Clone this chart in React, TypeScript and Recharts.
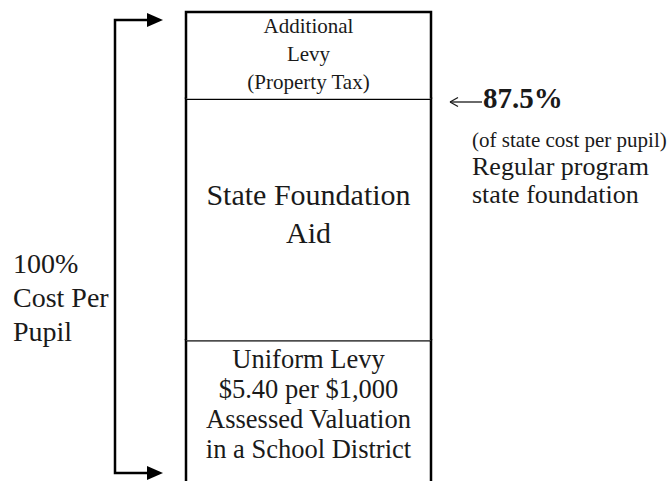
import { BarChart, Bar, XAxis, YAxis, LabelList } from 'recharts';

// share of the drawn column (percent of visible height)
const segments = ['uniform', 'state', 'additional'];
const segmentValues = [30, 51.5, 18.5];

const uniformLines = ['Uniform Levy', '$5.40 per $1,000', 'Assessed Valuation', 'in a School District'];
const stateLines = ['State Foundation', 'Aid'];
const additionalLines = ['Additional', 'Levy', '(Property Tax)'];

const leftLines = ['100%', 'Cost Per', 'Pupil'];
const rightPct = '87.5%';
const rightNote = '(of state cost per pupil)';
const rightLines = ['Regular program', 'state foundation'];

const chartData = [
  segments.reduce(
    (acc, key, i) => {
      acc[key] = segmentValues[i];
      return acc;
    },
    { name: 'cost' } as Record<string, string | number>
  ),
];

const FONT = '"Liberation Serif", "Times New Roman", serif';
const INK = '#1a1a1a';

function OpenBox(props: any) {
  const { x, y, width, height } = props;
  return (
    <g>
      <rect x={x} y={y} width={width} height={height} fill="#fff" />
      <path
        d={`M${x},${y + height} L${x},${y} L${x + width},${y} L${x + width},${y + height}`}
        stroke="#000"
        strokeWidth={2.5}
        fill="none"
      />
    </g>
  );
}

function makeLabel(lines: string[], fontSize: number, first: number, gap: number) {
  return (props: any) => {
    const { x, y, width } = props;
    const cx = Number(x) + Number(width) / 2;
    return (
      <text x={cx} y={Number(y) + first} textAnchor="middle" fontFamily={FONT} fontSize={fontSize} fill={INK}>
        {lines.map((line, i) => (
          <tspan key={line} x={cx} y={Number(y) + first + i * gap}>
            {line}
          </tspan>
        ))}
      </text>
    );
  };
}

export default function App() {
  return (
    <div style={{ position: 'absolute', left: 0, top: 0, width: 668, height: 481, background: '#fff' }}>
      <BarChart
        width={668}
        height={481}
        data={chartData}
        margin={{ top: 12, right: 237, bottom: 0, left: 186 }}
        barCategoryGap={0}
      >
        <XAxis dataKey="name" hide />
        <YAxis hide domain={[0, 100]} />
        <Bar dataKey="uniform" stackId="a" shape={OpenBox} isAnimationActive={false}>
          <LabelList dataKey="uniform" content={makeLabel(uniformLines, 26.5, 28, 30)} />
        </Bar>
        <Bar dataKey="state" stackId="a" shape={OpenBox} isAnimationActive={false}>
          <LabelList dataKey="state" content={makeLabel(stateLines, 30, 106, 38)} />
        </Bar>
        <Bar dataKey="additional" stackId="a" shape={OpenBox} isAnimationActive={false}>
          <LabelList dataKey="additional" content={makeLabel(additionalLines, 21, 21, 28)} />
        </Bar>

        {/* bracket on the left */}
        <g>
          <path d="M148,20 L115,20 L115,473 L148,473" stroke="#000" strokeWidth={2.5} fill="none" />
          <path d="M147,13 L163,20 L147,27 Z" fill="#000" />
          <path d="M147,466 L163,473 L147,480 Z" fill="#000" />
        </g>
        <text fontFamily={FONT} fontSize={28} fill={INK}>
          {leftLines.map((line, i) => (
            <tspan key={line} x={13} y={273 + i * 34}>
              {line}
            </tspan>
          ))}
        </text>

        {/* note on the right */}
        <g>
          <line x1={450} y1={102} x2={482} y2={102} stroke={INK} strokeWidth={1.3} />
          <path d="M450,102 L458,97.5 M450,102 L458,106.5" stroke={INK} strokeWidth={1.3} fill="none" />
        </g>
        <text x={483} y={108} fontFamily={FONT} fontSize={29} fontWeight="bold" fill={INK}>
          {rightPct}
        </text>
        <text x={472} y={147} fontFamily={FONT} fontSize={21} fill={INK}>
          {rightNote}
        </text>
        <text fontFamily={FONT} fontSize={26} fill={INK}>
          {rightLines.map((line, i) => (
            <tspan key={line} x={472} y={175 + i * 28}>
              {line}
            </tspan>
          ))}
        </text>
      </BarChart>
    </div>
  );
}
